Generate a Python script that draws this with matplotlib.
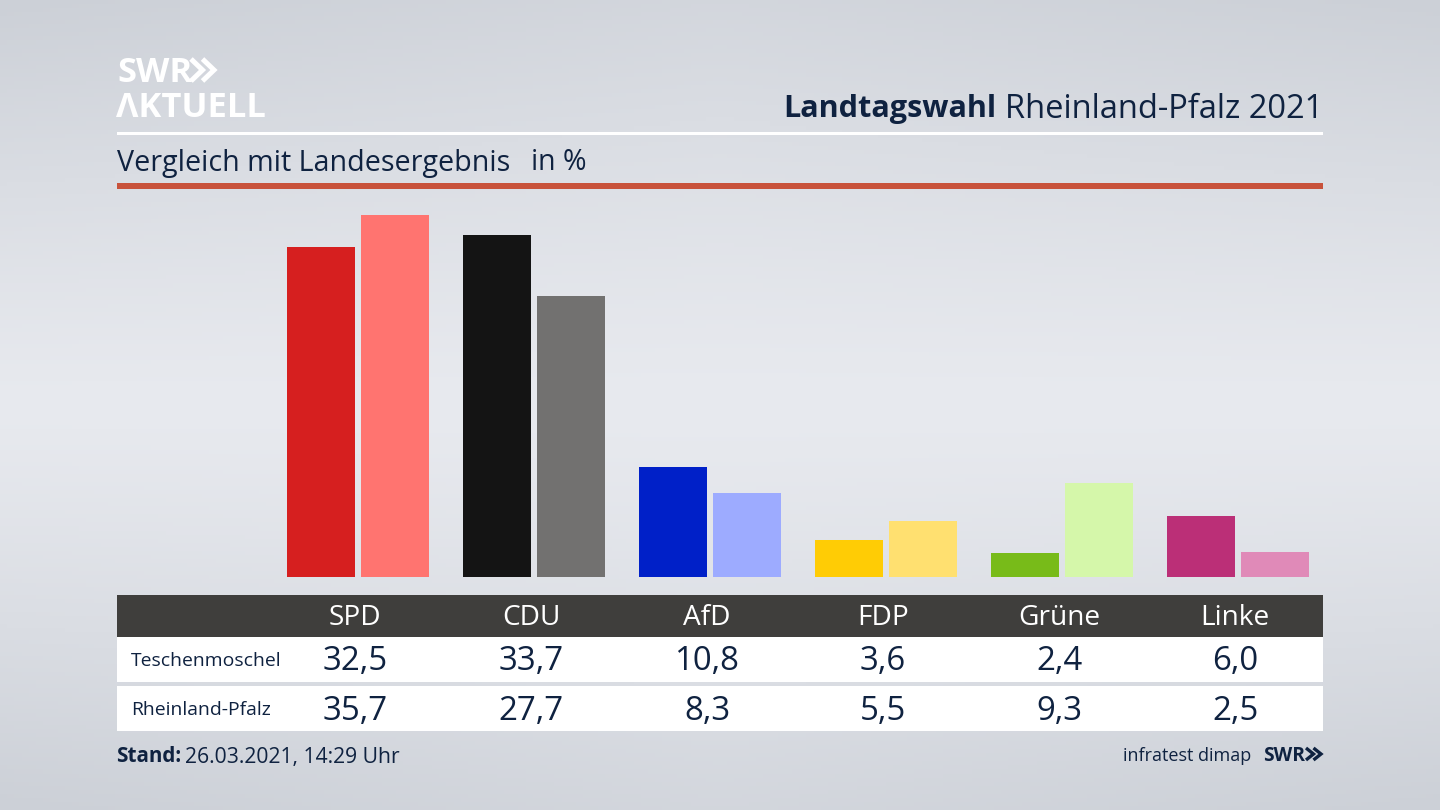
import numpy as np
import matplotlib
matplotlib.use('Agg')
import matplotlib.pyplot as plt
from matplotlib.patches import Rectangle

plt.rcParams['font.family'] = ['Open Sans', 'Noto Sans', 'DejaVu Sans']

# Data
parties = ['SPD', 'CDU', 'AfD', 'FDP', 'Grüne', 'Linke']
teschenmoschel = [32.5, 33.7, 10.8, 3.6, 2.4, 6.0]
rheinland_pfalz = [35.7, 27.7, 8.3, 5.5, 9.3, 2.5]
row_labels = ['Teschenmoschel', 'Rheinland-Pfalz']
colors_local = ['#d61f1f', '#141414', '#0020c8', '#ffcc05', '#78bb19', '#bb2f77']
colors_state = ['#ff7470', '#727170', '#9dabff', '#ffe070', '#d5f7aa', '#e08ab8']

W, H = 1440, 810
NAVY = '#0f2240'
BASE_Y = 577      # bar baseline in pixels
PX_PER_UNIT = 10.15
GROUP_X0 = 355    # centre of first group
GROUP_STEP = 176
BAR_W = 68.5

fig = plt.figure(figsize=(W / 100, H / 100), dpi=100)

# Full-figure pixel axes for background, rules and table
bg = fig.add_axes([0, 0, 1, 1])
bg.set_xlim(0, W)
bg.set_ylim(H, 0)
bg.axis('off')

# Background gradient, lightest a bit below the middle
yy = np.linspace(0, 1, 200)
xx = np.linspace(0, 1, 200)
gx, gy = np.meshgrid(xx, yy)
shade = np.abs(gy - 0.5) / 0.5
shade = 0.75 * shade ** 1.2 + 0.25 * np.abs(gx - 0.5) / 0.5 * shade
c_mid = np.array([232, 234, 239]) / 255
c_edge = np.array([204, 208, 215]) / 255
grad = c_mid + (c_edge - c_mid) * shade[..., None]
bg.imshow(grad, extent=(0, W, H, 0), aspect='auto', zorder=0)


def box(x0, y0, x1, y1, color):
    bg.add_patch(Rectangle((x0, y0), x1 - x0, y1 - y0, fc=color, ec='none', zorder=1))


def px_text(x, y, s, size_px, **kw):
    kw.setdefault('color', NAVY)
    kw.setdefault('va', 'center')
    return bg.text(x, y, s, fontsize=size_px * 0.72, zorder=3, **kw)


def chevrons(x0, y0, w, h, color, lw):
    # the two arrows of the SWR logo
    tip = w * 0.5
    for dx in (0, w - tip):
        bg.plot([x0 + dx, x0 + dx + tip, x0 + dx], [y0, y0 + h / 2, y0 + h],
                color=color, lw=lw, solid_joinstyle='miter', solid_capstyle='butt', zorder=3)


# Header
box(117, 132, 1323, 135, 'white')
box(117, 183, 1323, 189, '#c8523b')
px_text(117, 82, 'SWR', 34.5, color='white', fontweight='bold', va='baseline')
chevrons(191, 59, 23, 22, 'white', 3.6)
px_text(116, 117, 'ΛKTUELL', 34.5, color='white', fontweight='bold', va='baseline')
t = px_text(1323, 109, 'Rheinland-Pfalz 2021', 32.6, ha='right')
fig.canvas.draw()
ext = t.get_window_extent()
px_text(ext.x0 - 8, 109, 'Landtagswahl', 30.7, ha='right', fontweight='bold')
px_text(117, 163, 'Vergleich mit Landesergebnis', 28.65)
px_text(531, 163, 'in %', 28.5)

# Bars
ax = fig.add_axes([0, (H - BASE_Y) / H, 1, BASE_Y / H])
ax.patch.set_alpha(0)
ax.set_xlim(-GROUP_X0 / GROUP_STEP, (W - GROUP_X0) / GROUP_STEP)
ax.set_ylim(0, BASE_Y / PX_PER_UNIT)
ax.axis('off')
x = np.arange(len(parties))
ax.bar(x - BAR_W / GROUP_STEP, teschenmoschel, width=BAR_W / GROUP_STEP, align='edge',
       color=colors_local)
ax.bar(x + 5.5 / GROUP_STEP, rheinland_pfalz, width=BAR_W / GROUP_STEP, align='edge',
       color=colors_state)

# Table
box(117, 595, 1323, 637, '#3f3e3c')
box(117, 637, 1323, 682, 'white')
box(117, 686, 1323, 731, 'white')
for i, name in enumerate(parties):
    cx = GROUP_X0 + i * GROUP_STEP
    px_text(cx, 618, name, 28, color='white', ha='center')
    for y, vals in zip((662, 711), (teschenmoschel, rheinland_pfalz)):
        px_text(cx, y, f'{vals[i]:.1f}'.replace('.', ','), 33, ha='center')
for y, label in zip((661, 710), row_labels):
    px_text(131, y, label, 19.4)

# Footer
s = px_text(116, 757, 'Stand:', 20.7, fontweight='bold')
fig.canvas.draw()
px_text(s.get_window_extent().x1 + 4, 757, '26.03.2021, 14:29 Uhr', 21.2)
px_text(1251, 756, 'infratest dimap', 18, ha='right', fontweight='medium')
px_text(1263, 761, 'SWR', 19.3, ha='left', fontweight='bold', va='baseline')
chevrons(1306, 748, 15, 12, NAVY, 2.4)

fig.savefig('out.png', dpi=100)
